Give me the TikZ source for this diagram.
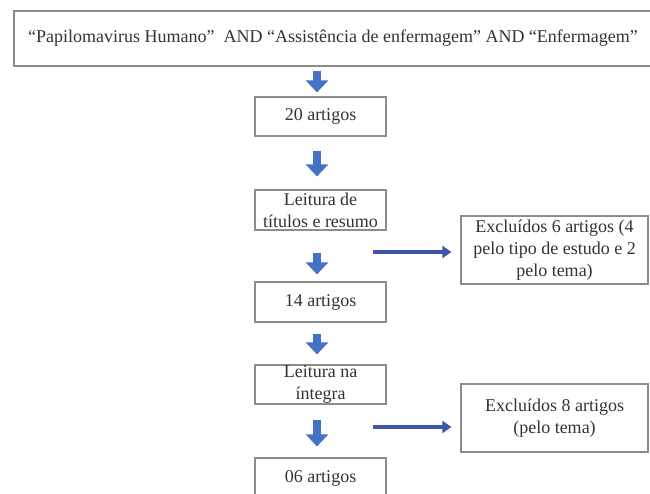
\documentclass[tikz,border=0pt]{standalone}
\usepackage{fontspec}
\setmainfont{Liberation Serif}
\usetikzlibrary{arrows.meta}
\definecolor{boxgray}{HTML}{8C8C8C}
\definecolor{arrowblue}{HTML}{4472C4}
\definecolor{darkblue}{HTML}{3E55A8}
\begin{document}
\begin{tikzpicture}[x=1pt,y=-1pt,
  box/.style={draw=boxgray, line width=1.2pt, fill=white, inner sep=0pt, align=center,
    font=\fontsize{18}{22}\selectfont, text=black!80},
  downarrow/.style={draw=arrowblue, line width=8pt,
    -{Triangle[width=22pt,length=12pt]}, arrowblue},
  sidearrow/.style={draw=darkblue, line width=4.5pt,
    -{Triangle[width=12pt,length=9pt]}, darkblue}]
\useasboundingbox[fill=white] (0,0) rectangle (650,494);
\node[box, minimum width=638pt, minimum height=55pt] (b0) at (333,38.5)
  {“Papilomavirus Humano”\ \ AND “Assistência de enfermagem” AND “Enfermagem”};
\node[box, minimum width=131pt, minimum height=39pt] (b1) at (320.5,116.5) {20 artigos};
\node[box, minimum width=131pt, minimum height=40pt] (b2) at (320.5,210) {Leitura de\\títulos e resumo};
\node[box, minimum width=131pt, minimum height=40pt] (b3) at (320.5,302) {14 artigos};
\node[box, minimum width=131pt, minimum height=39pt] (b4) at (320.5,384.5) {Leitura na\\íntegra};
\node[box, minimum width=131pt, minimum height=40pt] (b5) at (320.5,478) {06 artigos};
\node[box, minimum width=187pt, minimum height=68pt] (r1) at (554.5,250)
  {Excluídos 6 artigos (4\\pelo tipo de estudo e 2\\pelo tema)};
\node[box, minimum width=187pt, minimum height=68pt] (r2) at (554.5,418)
  {Excluídos 8 artigos\\(pelo tema)};
\draw[downarrow, shorten <=4pt, shorten >=4pt] ([xshift=-3.5pt]b1.north |- b0.south) -- ([xshift=-3.5pt]b1.north);
\draw[downarrow, shorten <=14pt, shorten >=13pt] ([xshift=-3.5pt]b1.south) -- ([xshift=-3.5pt]b2.north);
\draw[downarrow, shorten <=22pt, shorten >=7pt] ([xshift=-3.5pt]b2.south) -- ([xshift=-3.5pt]b3.north);
\draw[downarrow, shorten <=11pt, shorten >=10pt] ([xshift=-3.5pt]b3.south) -- ([xshift=-3.5pt]b4.north);
\draw[downarrow, shorten <=15pt, shorten >=11pt] ([xshift=-3.5pt]b4.south) -- ([xshift=-3.5pt]b5.north);
\coordinate (c1) at (373,252);
\coordinate (c2) at (373,427);
\draw[sidearrow, shorten >=9pt] (c1) -- (c1 -| r1.west);
\draw[sidearrow, shorten >=9pt] (c2) -- (c2 -| r2.west);
\end{tikzpicture}
\end{document}
